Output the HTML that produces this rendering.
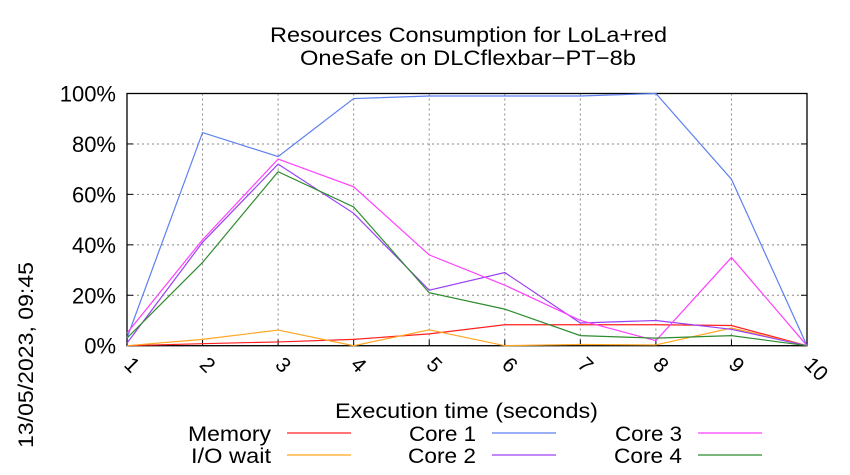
<!DOCTYPE html>
<html><head><meta charset="utf-8"><style>
html,body{margin:0;padding:0;background:#fff;}
svg{display:block;font-family:"Liberation Sans",sans-serif;}
</style></head><body>
<svg id="chart" width="850" height="475" viewBox="0 0 850 475">
<text x="270" y="42" textLength="397" lengthAdjust="spacingAndGlyphs" font-size="21">Resources Consumption for LoLa+red</text>
<text x="300" y="65" textLength="336" lengthAdjust="spacingAndGlyphs" font-size="21">OneSafe on DLCflexbar−PT−8b</text>
<text transform="translate(33,448) rotate(-90)" font-size="21" textLength="186" lengthAdjust="spacingAndGlyphs">13/05/2023, 09:45</text>
<text x="335" y="418" textLength="263" lengthAdjust="spacingAndGlyphs" font-size="21">Execution time (seconds)</text>
<g id="grid"></g><g id="axes"></g><g id="series"></g><g id="legend"></g>
</svg>
<script>
const xCategories = [1,2,3,4,5,6,7,8,9,10];
const yTicks = [0,20,40,60,80,100];
const yTickLabels = ["0%","20%","40%","60%","80%","100%"];
const memory = [0,0.8,1.5,2.5,4.7,8.3,8.3,8.3,8,0];
const ioWait = [0,2.5,6.2,0,6.3,0,0.5,0.3,7,0];
const core1 = [3,84.5,75,98,99,99,99,100,66,0];
const core2 = [1,41,72,52.5,22,29,9,10,6.5,0];
const core3 = [5,42,74,63,36,24,10,2,35,0];
const core4 = [3,33,69,55,21,14.5,4,3,4,0];
const seriesNames = ["Memory","I/O wait","Core 1","Core 2","Core 3","Core 4"];
const seriesColors = ["#ff2020","#ffa520","#5c80f0","#9a40f5","#ff40ff","#2e8b2e"];
const seriesData = [memory,ioWait,core1,core2,core3,core4];

const NS="http://www.w3.org/2000/svg";
const L=127,R=807,T=93.5,B=345.7;
const xs=v=>L+(v-1)*(R-L)/9;
const ys=v=>B-v*(B-T)/100;
function mk(tag,attrs,parent,text){const e=document.createElementNS(NS,tag);for(const k in attrs)e.setAttribute(k,attrs[k]);if(text!==undefined)e.textContent=text;parent.appendChild(e);return e;}
const grid=document.getElementById('grid'),axes=document.getElementById('axes'),ser=document.getElementById('series'),leg=document.getElementById('legend');

yTicks.forEach((t,i)=>{
  const g=mk('line',{x1:L,x2:R,y1:ys(t),y2:ys(t),stroke:'#888','stroke-dasharray':'2,3','stroke-width':1},grid);
  
  
  const tk=mk('text',{x:L-11,y:ys(t)+8,'text-anchor':'end','font-size':22},axes,yTickLabels[i]);
  
  
  mk('line',{x1:L,x2:L+6,y1:ys(t),y2:ys(t),stroke:'#000'},axes);
  mk('line',{x1:R,x2:R-6,y1:ys(t),y2:ys(t),stroke:'#000'},axes);
});
xCategories.forEach(c=>{
  const x=xs(c);
  const g=mk('line',{x1:x,x2:x,y1:T,y2:B,stroke:'#888','stroke-dasharray':'2,3','stroke-width':1},grid);
  
  
  mk('line',{x1:x,x2:x,y1:B,y2:B-6,stroke:'#000'},axes);
  const tk=mk('text',{transform:`translate(${x-4},${B+20}) rotate(45)`,'font-size':21},axes,String(c));
  
  
});
const frame=mk('rect',{x:L,y:T,width:R-L,height:B-T,fill:'none',stroke:'#000','stroke-width':1.3},axes);



seriesData.forEach((d,i)=>{
  const p=mk('polyline',{points:d.map((v,j)=>xs(xCategories[j])+','+ys(v)).join(' '),fill:'none',stroke:seriesColors[i],'stroke-width':1.2},ser);
  
  
});

const legCols=[[271,287],[476,492],[682,698]];
const legRows=[441,463];
const legWidths=[83,80,67,68,67,68];
const legOrder=[[0,0,0],[1,0,1],[2,1,0],[3,1,1],[4,2,0],[5,2,1]];
legOrder.forEach(([si,c,r])=>{
  const t=mk('text',{x:legCols[c][0]-legWidths[si],y:legRows[r],textLength:legWidths[si],lengthAdjust:'spacingAndGlyphs','font-size':21},leg,seriesNames[si]);
  
  
  const l=mk('line',{x1:legCols[c][1],x2:legCols[c][1]+64,y1:legRows[r]-8,y2:legRows[r]-8,stroke:seriesColors[si],'stroke-width':1.2},leg);
  
  
});
</script>
</body></html>
